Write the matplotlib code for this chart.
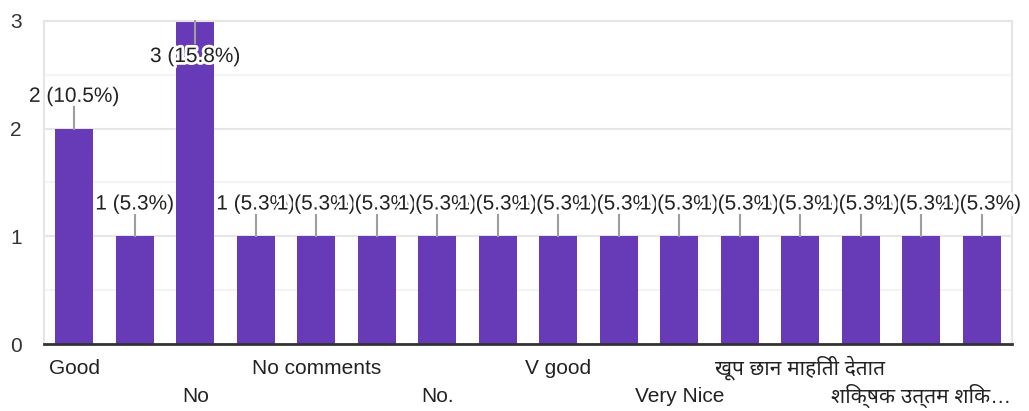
import matplotlib
matplotlib.use("Agg")
import matplotlib.pyplot as plt
import matplotlib.patheffects as pe
from matplotlib import font_manager
from matplotlib.ft2font import FT2Font

# answers and counts (19 responses total)
labels = ["Good", "", "No", "", "No comments", "", "No.", "",
          "V good", "", "Very Nice", "", "खूप छान माहिती देतात", "",
          "शिक्षक उत्तम शिक…", ""]
counts = [2, 1, 3, 1, 1, 1, 1, 1, 1, 1, 1, 1, 1, 1, 1, 1]
total = 19
yticks = [0, 1, 2, 3]

# look for an installed font that has Devanagari glyphs, prefer sans ones
deva_fonts = []
for f in font_manager.fontManager.ttflist:
    try:
        if FT2Font(f.fname).get_char_index(ord('क')):
            deva_fonts.append(f.name)
    except Exception:
        pass
deva_font = None
for pref in ["Noto Sans Devanagari", "Lohit Devanagari", "FreeSans", "Mukta", "Hind"]:
    if pref in deva_fonts:
        deva_font = pref
        break
if deva_font is None and deva_fonts:
    deva_font = deva_fonts[0]

fams = ["Liberation Sans", "DejaVu Sans"]
if deva_font:
    fams = ["Liberation Sans", deva_font, "DejaVu Sans"]
plt.rcParams['font.family'] = fams

purple = "#673ab7"
txtcol = "#222222"

fig = plt.figure(figsize=(10.29, 4.11), dpi=100)
ax = fig.add_axes([44/1029, 1-344/411, 968/1029, 323/411])

x = list(range(len(counts)))
ax.bar(x, counts, width=0.63, color=purple, zorder=2)

ax.set_xlim(-0.5, len(counts)-0.5)
ax.set_ylim(0, 3)
ax.set_yticks(yticks)
ax.set_yticks([0.5, 1.5, 2.5], minor=True)
ax.set_xticks([])
ax.tick_params(axis='y', which='both', length=0, pad=16, labelsize=15, labelcolor="#333333")
ax.grid(axis='y', which='major', color="#e6e6e6", lw=1.5, zorder=0)
ax.grid(axis='y', which='minor', color="#f4f4f4", lw=1.5, zorder=0)
for s in ['left', 'right', 'top']:
    ax.spines[s].set_color("#e6e6e6")
    ax.spines[s].set_linewidth(1.5)
ax.spines['bottom'].set_color("#333333")
ax.spines['bottom'].set_linewidth(2)
ax.spines['bottom'].set_zorder(3)

ymax = ax.get_ylim()[1]
halo = [pe.withStroke(linewidth=4, foreground="white")]
for i, v in enumerate(counts):
    s = "%d (%.1f%%)" % (v, 100.0*v/total)
    if v >= ymax:
        ax.plot([i, i], [v, v-0.2], color="#9e9e9e", lw=1.5, zorder=3, clip_on=False)
        ty = v - 0.33
    else:
        ax.plot([i, i], [v, v+0.2], color="#9e9e9e", lw=1.5, zorder=3, clip_on=False)
        ty = v + 0.30
    ax.text(i, ty, s, ha='center', va='center', fontsize=15, color=txtcol,
            path_effects=halo, zorder=4+i, clip_on=False)

# category labels, alternating rows
row = 0
for i, lab in enumerate(labels):
    if not lab:
        continue
    off = -24 if row == 0 else -52
    ax.annotate(lab, xy=(i, 0), xycoords=('data', 'axes fraction'),
                xytext=(0, off), textcoords='offset pixels',
                ha='center', va='center', fontsize=15, color=txtcol)
    row = 1 - row

fig.savefig("out.png", dpi=100)
